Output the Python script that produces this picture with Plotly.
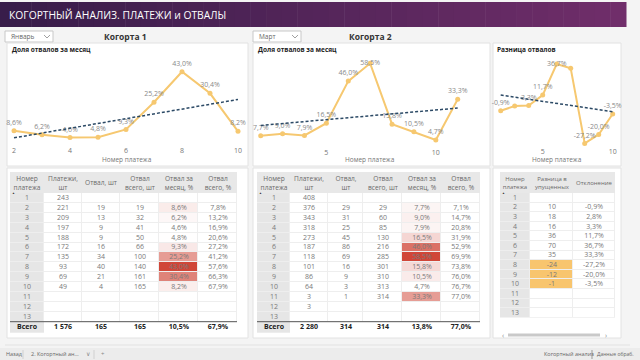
import plotly.graph_objects as go

W, H = 640, 360
FONT = "Open Sans"

# ---------------- data ----------------
title_text = "КОГОРТНЫЙ АНАЛИЗ. ПЛАТЕЖИ и ОТВАЛЫ"
cohort1_month = "Январь"
cohort2_month = "Март"
cohort_titles = ["Когорта 1", "Когорта 2"]
chart_titles = ["Доля отвалов за месяц", "Доля отвалов за месяц", "Разница отвалов"]
x_title = "Номер платежа"

pay_num = list(range(1, 14))

c1_x = [2, 3, 4, 5, 6, 7, 8, 9, 10]
c1_rate = [8.6, 6.2, 4.6, 4.8, 9.3, 25.2, 43.0, 30.4, 8.2]
c1_trend_x = [2, 10]
c1_trend_y = [4.4, 26.8]

c2_x = [2, 3, 4, 5, 6, 7, 8, 9, 10, 11]
c2_rate = [7.7, 9.0, 7.9, 16.5, 46.0, 58.5, 15.8, 10.5, 4.7, 33.3]
c2_trend_x = [2, 11]
c2_trend_y = [14.9, 27.1]

d_x = [2, 3, 4, 5, 6, 7, 8, 9, 10]
d_rate = [-0.9, 2.8, 3.3, 11.7, 36.7, 33.3, -27.2, -20.0, -3.5]
d_trend_x = [2, 10]
d_trend_y = [11.7, -1.7]

t1_pay = [243, 221, 209, 197, 188, 172, 135, 93, 69, 49, None, None, None]
t1_out = [None, 19, 13, 9, 9, 16, 34, 40, 21, 4, None, None, None]
t1_outcum = [None, 19, 32, 41, 50, 66, 100, 140, 161, 165, None, None, None]
t1_rate = [None] + c1_rate + [None, None, None]
t1_ratecum = [None, 7.8, 13.2, 16.9, 20.6, 27.2, 41.2, 57.6, 66.3, 67.9, None, None, None]
t1_total = ["Всего", "1 576", "165", "165", "10,5%", "67,9%"]

t2_pay = [408, 376, 343, 318, 273, 187, 118, 101, 86, 64, 3, 3, None]
t2_out = [None, 29, 31, 25, 45, 86, 69, 16, 9, 3, 1, None, None]
t2_outcum = [None, 29, 60, 85, 130, 216, 285, 301, 310, 313, 314, None, None]
t2_rate = [None] + c2_rate + [None, None]
t2_ratecum = [None, 7.1, 14.7, 20.8, 31.9, 52.9, 69.9, 73.8, 76.0, 76.7, 77.0, None, None]
t2_total = ["Всего", "2 280", "314", "314", "13,8%", "77,0%"]

t3_lost = [None, 10, 18, 16, 36, 70, 35, -24, -12, -1, None, None, None]
t3_dev = [None] + d_rate + [None, None, None]

t1_headers = ["Номер<br>платежа", "Платежи,<br>шт", "Отвал, шт", "Отвал<br>всего, шт", "Отвал за<br>месяц, %", "Отвал<br>всего, %"]
t2_headers = ["Номер<br>платежа", "Платежи,<br>шт", "Отвал,<br>шт", "Отвал<br>всего, шт", "Отвал за<br>месяц, %", "Отвал<br>всего, %"]
t3_headers = ["Номер<br>платежа", "Разница в<br>упущенных", "Отклонение"]

# ---------------- styling ----------------
ORANGE = "rgb(246,200,112)"
TREND = "#2c4a66"
GREY_TXT = "#7a7a7a"
HEAD_BG = "#e8e8e8"
RED = "rgb(208,70,56)"
ORANGE_CELL = "rgb(248,197,110)"


def pct(v):
    return "" if v is None else f"{v:.1f}".replace(".", ",") + "%"


def num(v):
    return "" if v is None else str(v)


def px(x):
    return x / W


def py(y):
    return 1 - y / H


fig = go.Figure()
shapes = []
ann = []


def rect(x0, y0, x1, y1, fill, line=None, lw=1, layer="below"):
    shapes.append(dict(type="rect", xref="paper", yref="paper", x0=px(x0), x1=px(x1), y0=py(y1), y1=py(y0),
                       fillcolor=fill, line=dict(color=line or "rgba(0,0,0,0)", width=lw if line else 0), layer=layer))


def text(x, y, s, size=7, color=GREY_TXT, anchor="left", bold=False, family=FONT):
    ann.append(dict(x=px(x), y=py(y), xref="paper", yref="paper", text=("<b>%s</b>" % s) if bold else s,
                    showarrow=False, xanchor=anchor, yanchor="middle",
                    font=dict(size=size, color=color, family=family)))


# header banner gradient
n = 40
c0 = (56, 29, 74)
c1 = (112, 46, 106)
for i in range(n):
    t = i / (n - 1)
    col = "rgb(%d,%d,%d)" % tuple(int(c0[k] + (c1[k] - c0[k]) * t) for k in range(3))
    rect(626 * i / n, 2, 626 * (i + 1) / n + 0.5, 27, col)
text(7, 15, title_text, size=10.3, color="white")

# dropdowns and cohort titles
for (bx, label) in [(5, cohort1_month), (253, cohort2_month)]:
    rect(bx, 31, bx + 48, 42, "white", "#c8c8c8", 1)
    text(bx + 4, 36.5, label, size=6.5, color="#666")
    shapes.append(dict(type="path", xref="paper", yref="paper",
                       path="M %f %f L %f %f L %f %f" % (px(bx + 39), py(35), px(bx + 42), py(38), px(bx + 45), py(35)),
                       line=dict(color="#888", width=0.8)))
text(125, 36.5, cohort_titles[0], size=8.5, color="#333", anchor="center", bold=True)
text(370, 36.5, cohort_titles[1], size=8.5, color="#333", anchor="center", bold=True)

# panels
for (x0, x1) in [(7, 248), (253, 490), (493, 621)]:
    rect(x0, 43, x1, 166, "white", "#e2e2e2", 1)
    rect(x0, 168, x1, 338, "white", "#e2e2e2", 1)
shapes.append(dict(type="line", xref="paper", yref="paper", x0=px(5), x1=px(630), y0=py(345), y1=py(345),
                   line=dict(color="#e2e2e2", width=1)))

# chart titles
text(10, 49.5, chart_titles[0], size=6.5, color="#222", bold=True)
text(256, 49.5, chart_titles[1], size=6.5, color="#222", bold=True)
text(495, 49.5, chart_titles[2], size=6.5, color="#222", bold=True)
for cx in [126.7, 370, 556.7]:
    text(cx, 159.5, x_title, size=6.5, color="#777", anchor="center")


# ---------------- charts ----------------
def domain(va, pa, vb, pb, r0, r1, vertical=False):
    s = (pb - pa) / (vb - va)
    p0 = pa + (r0 - va) * s
    p1 = pa + (r1 - va) * s
    if vertical:
        return sorted([py(p0), py(p1)])
    return sorted([px(p0), px(p1)])


charts = [
    dict(x=c1_x, y=c1_rate, tx=c1_trend_x, ty=c1_trend_y, xa="x", ya="y",
         xr=[1.75, 10.25], xd=domain(2, 14, 10, 238, 1.75, 10.25),
         yr=[0, 48], yd=domain(0, 145.4, 43, 71.7, 0, 48, True),
         ticks=[2, 4, 6, 8, 10], show=[True] * 9, pos=["top center"] * 9),
    dict(x=c2_x, y=c2_rate, tx=c2_trend_x, ty=c2_trend_y, xa="x2", ya="y2",
         xr=[1.7, 11.3], xd=domain(2, 260.7, 11, 457.7, 1.7, 11.3),
         yr=[0, 66], yd=domain(0, 146.7, 58.5, 63.3, 0, 66, True),
         ticks=[5, 10], show=[True] * 10,
         pos=["top center"] * 5 + ["middle center"] + ["top center"] * 4),
    dict(x=d_x, y=d_rate, tx=d_trend_x, ty=d_trend_y, xa="x3", ya="y3",
         xr=[1.6, 10.4], xd=domain(2, 500.7, 10, 612.7, 1.6, 10.4),
         yr=[-29, 45], yd=domain(0, 109.6, 36.7, 64, -29, 45, True),
         ticks=[5, 10], show=[True, False, True, True, True, False, True, True, True],
         pos=["top center"] * 4 + ["middle center"] + ["top center"] * 4),
]

layout_axes = {}
for i, c in enumerate(charts):
    labels = [pct(v) if s else "" for v, s in zip(c["y"], c["show"])]
    fig.add_trace(go.Scatter(x=c["x"], y=c["y"], mode="lines+markers+text", text=labels,
                             textposition=c["pos"], textfont=dict(size=7, color="#8a8a8a", family=FONT),
                             line=dict(color=ORANGE, width=2), marker=dict(size=5, color=ORANGE),
                             cliponaxis=False, xaxis=c["xa"], yaxis=c["ya"], hoverinfo="skip", showlegend=False))
    fig.add_trace(go.Scatter(x=c["tx"], y=c["ty"], mode="lines",
                             line=dict(color=TREND, width=1.5, dash="3px,2px"),
                             xaxis=c["xa"], yaxis=c["ya"], hoverinfo="skip", showlegend=False))
    sfx = "" if i == 0 else str(i + 1)
    layout_axes["xaxis" + sfx] = dict(domain=c["xd"], range=c["xr"], tickvals=c["ticks"], showgrid=False,
                                      zeroline=False, showline=False, ticks="",
                                      tickfont=dict(size=7, color="#777", family=FONT),
                                      anchor="y" + sfx, fixedrange=True)
    layout_axes["yaxis" + sfx] = dict(domain=c["yd"], range=c["yr"], visible=False, anchor="x" + sfx,
                                      fixedrange=True)

# ---------------- tables ----------------
layout_axes["xaxis4"] = dict(domain=[0, 1], range=[0, W], visible=False, anchor="y4", fixedrange=True)
layout_axes["yaxis4"] = dict(domain=[0, 1], range=[H, 0], visible=False, anchor="x4", fixedrange=True)

GREY_CS = [[0, HEAD_BG], [1, HEAD_BG]]
WHITE_CS = [[0, "white"], [1, "white"]]
FIRSTCOL_CS = [[0, "white"], [1, "#e6e6e6"]]


def heat(xe, ye, z, txt, cs, zmin, zmax, size=7, color=GREY_TXT, gap=1):
    fig.add_trace(go.Heatmap(x=xe, y=ye, z=z, text=txt, texttemplate="%{text}", colorscale=cs,
                             zmin=zmin, zmax=zmax, showscale=False, xgap=gap, ygap=gap,
                             textfont=dict(size=size, color=color, family=FONT),
                             xaxis="x4", yaxis="y4", hoverinfo="skip"))


def add_table(edges, headers, cols, total, top=172, head_h=21, row_h=9.9, nrows=13, total_h=11, head_size=6.6):
    hb = top + head_h
    rows_end = hb + row_h * nrows
    # header
    heat(edges, [top, hb], [[0] * len(headers)], [headers], GREY_CS, 0, 1, size=head_size, color="#6a6a6a", gap=0)
    ann.append(dict(x=px(edges[0] + 3.5), y=py(hb + 0.3), xref="paper", yref="paper", text="▲", showarrow=False,
                    font=dict(size=3, color="#333"), xanchor="center", yanchor="middle"))
    # grid background
    rect(edges[0], hb, edges[-1], rows_end, "#eeeeee")
    ye = [hb + row_h * k for k in range(nrows + 1)]
    for j, c in enumerate(cols):
        heat([edges[j], edges[j + 1]], ye, [[v] for v in c["z"]], [[t] for t in c["text"]],
             c["cs"], c["zmin"], c["zmax"])
    if total:
        heat(edges, [rows_end, rows_end + total_h], [[1] + [0] * (len(total) - 1)],
             [["<b>%s</b>" % t for t in total]], FIRSTCOL_CS, 0, 1, size=7, color="#222", gap=0)
        shapes.append(dict(type="line", xref="paper", yref="paper", x0=px(edges[0]), x1=px(edges[-1]),
                           y0=py(rows_end), y1=py(rows_end), line=dict(color="#555", width=1)))


def first_col():
    return dict(text=[str(v) for v in pay_num], z=[1] * len(pay_num), cs=FIRSTCOL_CS, zmin=0, zmax=1)


def plain_col(vals, fmt=num):
    return dict(text=[fmt(v) for v in vals], z=[0] * len(vals), cs=WHITE_CS, zmin=0, zmax=1)


def heat_col(vals):
    present = [v for v in vals if v is not None]
    lo, hi = min(present), max(present)
    return dict(text=[pct(v) for v in vals], z=[lo if v is None else v for v in vals],
                cs=[[0, "white"], [1, RED]], zmin=lo, zmax=hi)


def neg_col(vals):
    return dict(text=[num(v) for v in vals], z=[1 if (v is not None and v < 0) else 0 for v in vals],
                cs=[[0, "white"], [1, ORANGE_CELL]], zmin=0, zmax=1)


add_table([10, 44, 82, 120, 159, 198, 237], t1_headers,
          [first_col(), plain_col(t1_pay), plain_col(t1_out), plain_col(t1_outcum),
           heat_col(t1_rate), plain_col(t1_ratecum, pct)], t1_total)
add_table([257, 290, 328, 363, 402, 441, 480], t2_headers,
          [first_col(), plain_col(t2_pay), plain_col(t2_out), plain_col(t2_outcum),
           heat_col(t2_rate), plain_col(t2_ratecum, pct)], t2_total)
add_table([500, 530, 573, 615], t3_headers,
          [first_col(), neg_col(t3_lost), plain_col(t3_dev, pct)], None, row_h=9.6, head_size=6)

# scrollbar of table 3
rect(508, 333.5, 600, 336.5, "#c9c9c9")
text(503, 335, "‹", size=7, color="#888", anchor="center")
text(606, 335, "›", size=7, color="#888", anchor="center")

# bottom bar
rect(0, 348, 640, 360, "#ececec")
text(4, 354, "Назад", size=5.5, color="#666")
shapes.append(dict(type="line", xref="paper", yref="paper", x0=px(23), x1=px(23), y0=py(350), y1=py(359),
                   line=dict(color="#d0d0d0", width=1)))
text(29, 354, "2. Когортный ан...", size=5.5, color="#666")
text(84, 354, "∨", size=5.5, color="#888")
shapes.append(dict(type="line", xref="paper", yref="paper", x0=px(94), x1=px(94), y0=py(350), y1=py(359),
                   line=dict(color="#d0d0d0", width=1)))
text(99, 354, "+", size=6, color="#888")
text(542, 354, "Когортный анализ", size=5.5, color="#666")
shapes.append(dict(type="line", xref="paper", yref="paper", x0=px(592), x1=px(592), y0=py(350), y1=py(359),
                   line=dict(color="#999", width=1)))
text(595, 354, "Данные обраб.", size=5, color="#666")

fig.update_layout(width=W, height=H, margin=dict(l=0, r=0, t=0, b=0),
                  paper_bgcolor="#f4f4f4", plot_bgcolor="rgba(0,0,0,0)",
                  shapes=shapes, annotations=ann, showlegend=False,
                  font=dict(family=FONT), **layout_axes)

fig.write_html("out.html", config={"displayModeBar": False},
               post_script="document.body.style.margin='0';document.body.style.overflow='hidden';")
